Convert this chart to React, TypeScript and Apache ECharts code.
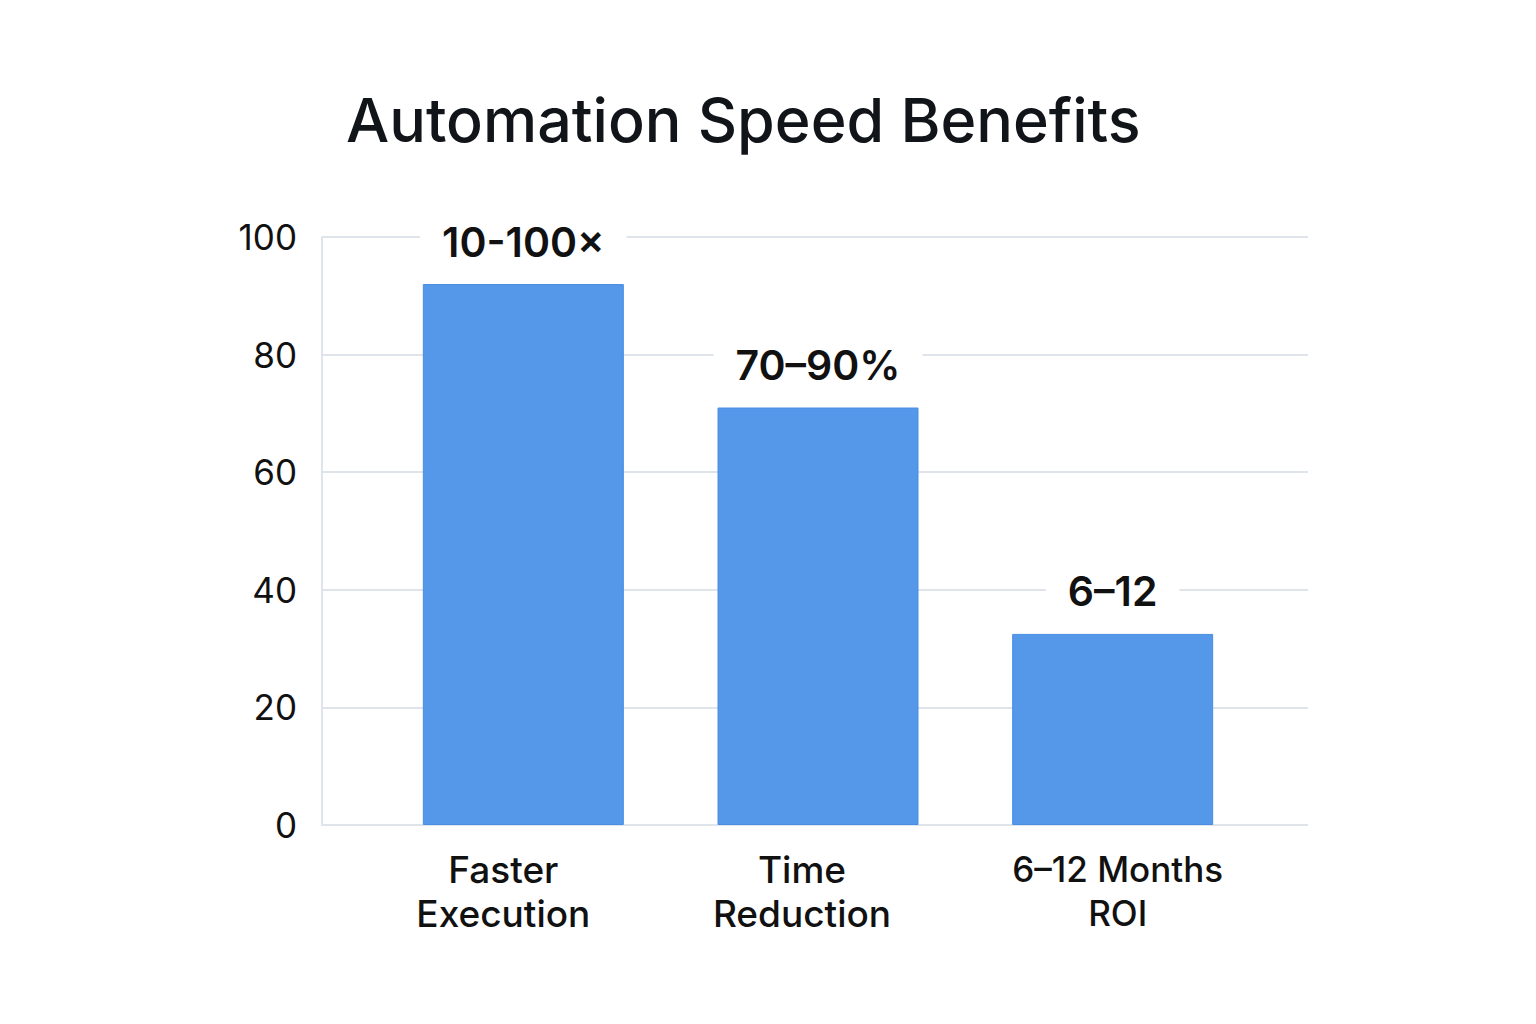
import React, { useEffect, useRef } from "react";
import * as echarts from "echarts";

const categories = ["Faster\nExecution", "Time\nReduction", "6–12 Months\nROI"];
const values = [92, 71, 32.5];
const barLabels = ["10-100×", "70–90%", "6–12"];
const yMin = 0;
const yMax = 100;
const yInterval = 20;

const FONT = "Inter, 'Noto Sans', sans-serif";
const GRID_COLOR = "#dfe4ea";

export default function App() {
  const ref = useRef<HTMLDivElement>(null);
  useEffect(() => {
    if (!ref.current) return;
    const chart = echarts.init(ref.current, undefined, { renderer: "svg" });
    const xLabelStyle = {
      fontFamily: FONT,
      fontSize: 37,
      fontWeight: 500,
      lineHeight: 44,
      color: "#111111",
    };
    chart.setOption({
      animation: false,
      backgroundColor: "#ffffff",
      title: {
        text: "Automation Speed Benefits",
        left: 341,
        top: 84,
        textStyle: { fontFamily: FONT, fontSize: 61, fontWeight: 500, color: "#111418" },
      },
      grid: [
        { left: 322, right: 228, top: 237, bottom: 199 },
        { left: 376, right: 276, top: 237, bottom: 199 },
      ],
      xAxis: [
        {
          gridIndex: 0,
          type: "value",
          min: 0,
          max: 1,
          show: true,
          axisLine: { show: false },
          axisTick: { show: false },
          axisLabel: { show: false },
          splitLine: { show: false },
        },
        {
          gridIndex: 1,
          type: "category",
          data: categories,
          axisLine: { show: false },
          axisTick: { show: false },
          axisLabel: {
            interval: 0,
            hideOverlap: false,
            margin: 22,
            ...xLabelStyle,
            formatter: (v: string, i: number) =>
              v
                .split("\n")
                .map((l) => `{c${i}|${l}}`)
                .join("\n"),
            rich: {
              c0: { ...xLabelStyle, padding: [0, 40, 0, 0] },
              c1: { ...xLabelStyle, padding: [0, 32, 0, 0] },
              c2: { ...xLabelStyle, fontSize: 35, padding: [0, 0, 0, 10] },
            },
          },
        },
      ],
      yAxis: [
        {
          gridIndex: 0,
          type: "value",
          min: yMin,
          max: yMax,
          interval: yInterval,
          axisLine: { show: true, lineStyle: { color: GRID_COLOR, width: 2 } },
          axisTick: { show: false },
          axisLabel: { margin: 25, fontFamily: FONT, fontSize: 35, color: "#111111" },
          splitLine: { show: true, lineStyle: { color: GRID_COLOR, width: 2 } },
        },
        {
          gridIndex: 1,
          type: "value",
          min: yMin,
          max: yMax,
          interval: yInterval,
          show: false,
          splitLine: { show: false },
        },
      ],
      series: [
        {
          type: "bar",
          xAxisIndex: 1,
          yAxisIndex: 1,
          data: values,
          barWidth: 201,
          itemStyle: { color: "#5597E9", borderColor: "#4a8de2", borderWidth: 1 },
          label: {
            show: true,
            position: "top",
            distance: 18,
            formatter: (p: any) => barLabels[p.dataIndex],
            fontFamily: FONT,
            fontSize: 41,
            fontWeight: 600,
            color: "#111111",
            backgroundColor: "#ffffff",
            padding: [4, 22],
          },
        },
      ],
    });
    return () => chart.dispose();
  }, []);
  return (
    <div
      ref={ref}
      style={{ position: "absolute", left: 0, top: 0, width: 1536, height: 1024, background: "#fff" }}
    />
  );
}
